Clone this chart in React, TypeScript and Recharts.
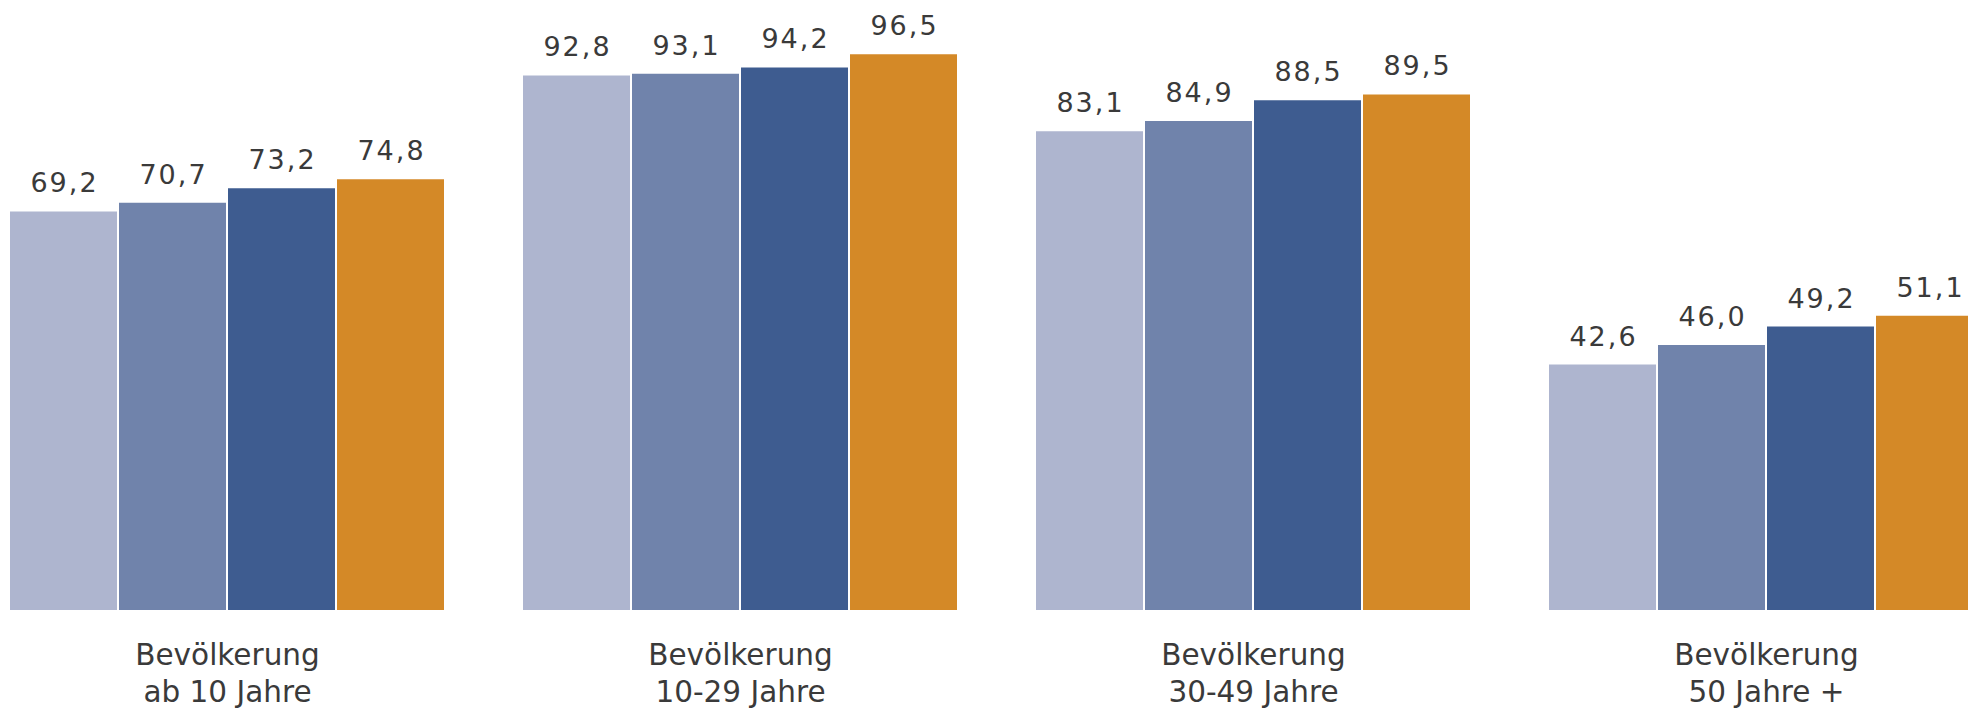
import { BarChart, Bar, XAxis, YAxis, LabelList } from "recharts";

// categories (two-line labels) and the four series per group
const categories = [
  "Bevölkerung\nab 10 Jahre",
  "Bevölkerung\n10-29 Jahre",
  "Bevölkerung\n30-49 Jahre",
  "Bevölkerung\n50 Jahre +",
];
const series1 = [69.2, 92.8, 83.1, 42.6];
const series2 = [70.7, 93.1, 84.9, 46.0];
const series3 = [73.2, 94.2, 88.5, 49.2];
const series4 = [74.8, 96.5, 89.5, 51.1];

const seriesKeys = ["s1", "s2", "s3", "s4"];
const seriesColors = ["#aeb5cf", "#7083ab", "#3e5c90", "#d48927"];

const data = categories.map((name, i) => ({
  name,
  s1: series1[i],
  s2: series2[i],
  s3: series3[i],
  s4: series4[i],
}));

const FONT = "'DejaVu Sans', Verdana, sans-serif";
const TEXT_COLOR = "#3a3a3a";

const formatValue = (v: number) => v.toFixed(1).replace(".", ",");

function ValueLabel(props: any) {
  const { x, y, width, value } = props;
  return (
    <text
      x={x + width / 2 + 1}
      y={y - 19}
      textAnchor="middle"
      fill={TEXT_COLOR}
      fontSize={27}
      fontFamily={FONT}
      style={{ letterSpacing: 2 }}
    >
      {formatValue(Number(value))}
    </text>
  );
}

function CategoryTick(props: any) {
  const { x, y, payload } = props;
  const lines = String(payload.value).split("\n");
  return (
    <text
      x={x}
      y={y}
      textAnchor="middle"
      fill={TEXT_COLOR}
      fontSize={29.5}
      fontFamily={FONT}
    >
      {lines.map((line, i) => (
        <tspan key={i} x={x} dy={i === 0 ? 55 : 37}>
          {line}
        </tspan>
      ))}
    </text>
  );
}

export default function App() {
  return (
    <div
      style={{
        position: "absolute",
        left: 0,
        top: 0,
        width: 1968,
        height: 708,
        overflow: "hidden",
        background: "#ffffff",
      }}
    >
      <div style={{ position: "absolute", left: -29, top: 0 }}>
        <BarChart
          width={2052}
          height={708}
          data={data}
          margin={{ top: 34, right: 0, bottom: 0, left: 0 }}
          barCategoryGap={39}
          barGap={2}
        >
          <XAxis
            dataKey="name"
            height={98}
            axisLine={false}
            tickLine={false}
            tickSize={0}
            tickMargin={0}
            interval={0}
            tick={<CategoryTick />}
          />
          <YAxis hide domain={[0, 100]} />
          {seriesKeys.map((key, i) => (
            <Bar
              key={key}
              dataKey={key}
              fill={seriesColors[i]}
              isAnimationActive={false}
            >
              <LabelList dataKey={key} content={<ValueLabel />} />
            </Bar>
          ))}
        </BarChart>
      </div>
    </div>
  );
}
